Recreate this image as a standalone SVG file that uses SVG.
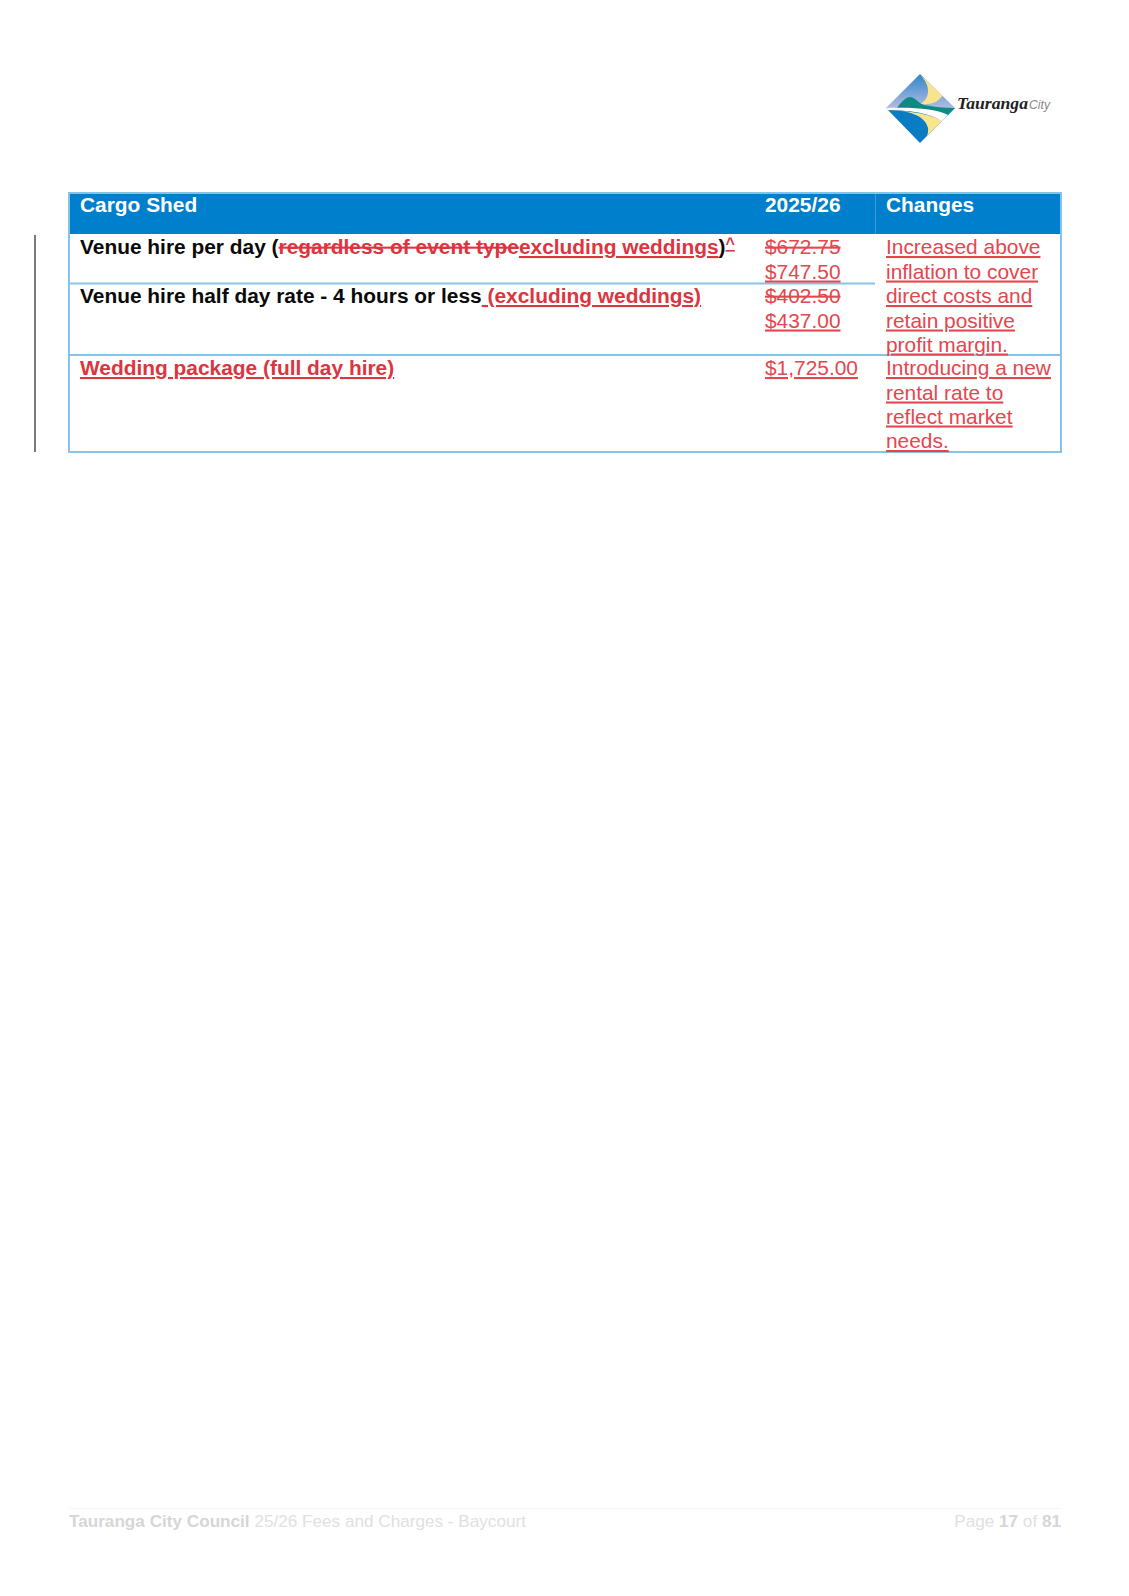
<svg xmlns="http://www.w3.org/2000/svg" width="1129" height="1596" viewBox="0 0 1129 1596">
<defs>
<linearGradient id="sky" x1="0" y1="0" x2="0" y2="1"><stop offset="0" stop-color="#2f86c8"/><stop offset="1" stop-color="#b3bde6"/></linearGradient>
<clipPath id="dia"><polygon points="920,74 955,108 920,143 886,108"/></clipPath>
</defs>
<style>
text{font-family:"Liberation Sans",Arial,sans-serif;font-size:20.9px}
.b{font-weight:bold}
.w{fill:#fff}
.k{fill:#0a0a0a}
.r{fill:#e4464e}
.rb{fill:#dc3540}
.u{text-decoration:underline;text-decoration-thickness:1.2px;text-underline-offset:3.5px;text-decoration-skip-ink:none}
.s{text-decoration:line-through;text-decoration-thickness:1.2px}
.line{stroke:#85c4e8;stroke-width:2;fill:none}
.f{font-size:17.15px;fill:#e0e0e0}
.fb{font-weight:bold;fill:#d6d6d6}
</style>
<rect width="1129" height="1596" fill="#fff"/>
<g id="logo">
<g clip-path="url(#dia)">
<rect x="886" y="74" width="69" height="35" fill="url(#sky)"/>
<rect x="886" y="108" width="69" height="35" fill="#0a7cc4"/>
<path d="M921,76C930,82 938,88 943,95C938,103 930,105 920,104C929,100 932,87 921,76Z" fill="#f7e48c"/>
<path d="M897,108C902,101 906,97 910,97C915,97 918,103 924,105C934,107 945,108 955,108L948,115C944,112 920,110 897,108Z" fill="#0f8a83"/>
<path d="M886,108C915,107 937,109 948,115L942,122C935,115 915,110 886,110Z" fill="#fff"/>
<path d="M887,110C907,110 925,115 928,128C929,135 925,140 921,143L934,130L942,122C938,116 915,111 887,110Z" fill="#f7e48c"/>
</g>
<text x="957" y="109" textLength="71" lengthAdjust="spacingAndGlyphs" style="font-family:'Liberation Serif',serif;font-style:italic;font-weight:bold;font-size:16px" fill="#222">Tauranga</text>
<text x="1029" y="109" textLength="21" lengthAdjust="spacingAndGlyphs" style="font-size:13.5px;font-style:italic" fill="#888">City</text>
</g>
<g id="change-bar"><path d="M35,235V452" stroke="#333" stroke-width="1.3"/></g>
<g id="table">
<rect x="69" y="192" width="992" height="42" fill="#0080cc"/>
<path d="M875.5,192V234" stroke="#3d9ad8" stroke-width="1"/>
<path class="line" d="M69,193H1061V452H69ZM69,283.5H875M69,355H1061"/>
</g>
<g id="header">
<text class="b w" x="80" y="212">Cargo Shed</text>
<text class="b w" x="765" y="212">2025/26</text>
<text class="b w" x="886" y="212">Changes</text>
</g>
<g id="row1">
<text class="b k" x="80" y="254">Venue hire per day (<tspan class="rb s">regardless of event type</tspan><tspan class="rb u">excluding weddings</tspan>)<tspan class="rb u" font-size="16" dy="-5">^</tspan></text>
<text class="r s" x="765" y="254">$672.75</text>
<text class="r u" x="765" y="278.5">$747.50</text>
</g>
<g id="row2">
<text class="b k" x="80" y="303">Venue hire half day rate - 4 hours or less<tspan class="rb u"> (excluding weddings)</tspan></text>
<text class="r s" x="765" y="303">$402.50</text>
<text class="r u" x="765" y="327.5">$437.00</text>
</g>
<g id="row1-2-changes">
<text class="r u" x="886" y="254">Increased above</text>
<text class="r u" x="886" y="278.5">inflation to cover</text>
<text class="r u" x="886" y="303">direct costs and</text>
<text class="r u" x="886" y="327.5">retain positive</text>
<text class="r u" x="886" y="351.5">profit margin.</text>
</g>
<g id="row3">
<text class="b rb u" x="80" y="375">Wedding package (full day hire)</text>
<text class="r u" x="765" y="375">$1,725.00</text>
<text class="r u" x="886" y="375">Introducing a new</text>
<text class="r u" x="886" y="399.5">rental rate to</text>
<text class="r u" x="886" y="423.5">reflect market</text>
<text class="r u" x="886" y="448">needs.</text>
</g>
<g id="footer">
<path d="M69,1508.5H1061" stroke="#f4f4f4" stroke-width="1"/>
<text class="f" x="69" y="1527"><tspan class="fb">Tauranga City Council</tspan> 25/26 Fees and Charges - Baycourt</text>
<text class="f" x="1061" y="1527" text-anchor="end">Page <tspan class="fb">17</tspan> of <tspan class="fb">81</tspan></text>
</g>
</svg>
